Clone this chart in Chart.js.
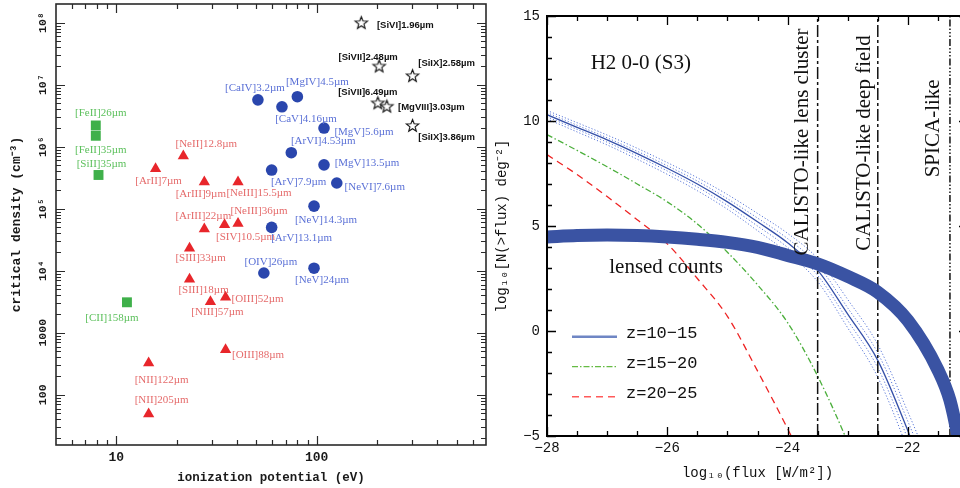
<!DOCTYPE html>
<html><head><meta charset="utf-8">
<script src="https://cdn.jsdelivr.net/npm/chart.js@4.4.1/dist/chart.umd.min.js"></script>
<style>
html,body{margin:0;padding:0;background:#fff;overflow:hidden;width:960px;height:488px;}
#wrap{position:relative;width:960px;height:488px;overflow:hidden;background:#fff;}
#c1{position:absolute;left:0;top:0;}
#c2{position:absolute;left:490px;top:0;}
</style></head><body>
<div id="wrap"><canvas id="c1" width="490" height="488"></canvas><canvas id="c2" width="490" height="488"></canvas></div>
<script>
// ===== Left panel: critical density vs ionization potential =====
const lowIonNames = ['[FeII]26µm','[FeII]35µm','[SiII]35µm','[CII]158µm'];
const lowIonPotential = [7.9, 7.9, 8.15, 11.3];
const lowIonDensity = [2.2e6, 1.5e6, 3.5e5, 3.1e3];

const midIonNames = ['[ArII]7µm','[NeII]12.8µm','[ArIII]9µm','[NeIII]15.5µm','[ArIII]22µm','[NeIII]36µm','[SIV]10.5µm','[SIII]33µm','[SIII]18µm','[NIII]57µm','[OIII]52µm','[OIII]88µm','[NII]122µm','[NII]205µm'];
const midIonPotential = [15.7, 21.6, 27.5, 40.5, 27.5, 40.5, 34.7, 23.2, 23.2, 29.5, 35.1, 35.1, 14.5, 14.5];
const midIonDensity = [4.4e5, 7.1e5, 2.7e5, 2.7e5, 4.7e4, 5.8e4, 5.5e4, 2.3e4, 7.3e3, 3.15e3, 3.75e3, 530, 325, 49];

const highIonNames = ['[CaIV]3.2µm','[CaV]4.16µm','[MgIV]4.5µm','[MgV]5.6µm','[ArVI]4.53µm','[MgV]13.5µm','[ArV]7.9µm','[NeVI]7.6µm','[NeV]14.3µm','[ArV]13.1µm','[OIV]26µm','[NeV]24µm'];
const highIonPotential = [50.9, 67.1, 80.1, 108.8, 74.7, 108.8, 59.6, 126, 97, 59.6, 54.5, 97];
const highIonDensity = [5.7e6, 4.4e6, 6.4e6, 2.0e6, 8.0e5, 5.1e5, 4.2e5, 2.6e5, 1.1e5, 5.0e4, 9.2e3, 1.1e4];

const coronalNames = ['[SiVI]1.96µm','[SiVII]2.48µm','[SiIX]2.58µm','[SiVII]6.49µm','[MgVIII]3.03µm','[SiIX]3.86µm'];
const coronalPotential = [167, 205, 301, 202, 224, 301];
const coronalDensity = [1.0e8, 2.0e7, 1.4e7, 5.1e6, 4.5e6, 2.2e6];

const densityTicks = [100, 1000, 1e4, 1e5, 1e6, 1e7, 1e8];
const densityTickLabels = ['100','1000','10⁴','10⁵','10⁶','10⁷','10⁸'];
const potentialTicks = [10, 100];
const potentialTickLabels = ['10','100'];

// ===== Right panel: cumulative counts =====
const fluxGridBlue = [-28,-27.5,-27,-26.5,-26,-25.5,-25,-24.5,-24,-23.5,-23,-22.5,-22,-21.5];
const countsZ10to15 =        [10.3, 9.7, 9.1, 8.45, 7.75, 7.0, 6.15, 5.2, 4.2, 2.9, 0.8, -1.4, -4.75, -8.5];
const countsZ10to15UpperA =  [10.5, 9.92, 9.33, 8.7, 8.02, 7.3, 6.5, 5.6, 4.65, 3.45, 1.5, -0.65, -3.85, -7.3];
const countsZ10to15UpperB =  [10.4, 9.8, 9.2, 8.56, 7.87, 7.14, 6.3, 5.38, 4.4, 3.15, 1.1, -1.05, -4.3, -7.9];
const countsZ10to15LowerA =  [10.2, 9.6, 8.99, 8.33, 7.62, 6.86, 5.98, 5.0, 3.98, 2.65, 0.5, -1.75, -5.15, -9.0];
const countsZ10to15LowerB =  [10.1, 9.48, 8.86, 8.18, 7.46, 6.68, 5.8, 4.78, 3.72, 2.35, 0.15, -2.2, -5.65, -9.6];

const fluxGridGreen = [-28,-27.5,-27,-26.5,-26,-25.5,-25,-24.5,-24,-23.5,-23,-22.5];
const countsZ15to20 = [9.35, 8.6, 7.82, 7.0, 6.15, 5.1, 3.75, 2.2, 0.4, -2.15, -5.3, -9.0];

const fluxGridRed = [-28,-27.5,-27,-26.5,-26,-25.5,-25,-24.5,-24,-23.5];
const countsZ20to25 = [8.4, 7.45, 6.4, 5.3, 4.15, 2.5, 0.7, -1.9, -4.65, -7.6];

const fluxGridLensed = [-28,-27.5,-27,-26.5,-26,-25.5,-25,-24.5,-24,-23.5,-23,-22.5,-22,-21.5,-21.3,-21.17,-21.05];
const countsLensed = [4.48, 4.55, 4.57, 4.55, 4.48, 4.37, 4.22, 3.98, 3.6, 3.2, 2.6, 1.85, 0.5, -1.85, -3.3, -5, -7];

const instrumentNames = ['CALISTO-like lens cluster','CALISTO-like deep field','SPICA-like'];
const instrumentLimits = [-23.5, -22.5, -21.3];
const legendLabels = ['z=10−15','z=15−20','z=20−25'];
const countTicks = [-5, 0, 5, 10, 15];
const fluxTicks = [-28, -26, -24, -22];

// ===== layout helpers (positions / styles, not data) =====
const lowIonLabelOffsets = [[5,-12],[5,14],[3,-11],[-15,16]];
const midIonLabelOffsets = [[3,12.4],[23,-11.7],[-3.5,12.3],[21,11],[-1,-13.3],[21,-12],[21,12.3],[11,10],[14,10.7],[7,10],[32,1.7],[32.5,5],[13,16.7],[13,-14]];
const highIonLabelOffsets = [[-3,-12],[24,12.3],[20,-14.7],[40,3.7],[32,-11.4],[43,-1.4],[27,12],[38,4.4],[12,14],[30,10.7],[7,-10.6],[8,12.4]];
const coronalLabelOffsets = [[44,2.3],[-11,-8.7],[34,-12],[-10,-10],[44.5,1.3],[34,12]];

function pts(xs, ys){ return xs.map((x,i)=>({x:x, y:ys[i]})); }

function logTickList(min, max){
  const out = [];
  for (let e = Math.floor(Math.log10(min)); e <= Math.ceil(Math.log10(max)); e++) {
    for (let m = 1; m < 10; m++) {
      const v = m * Math.pow(10, e);
      if (v > min && v < max) out.push({v:v, major: m === 1});
    }
  }
  return out;
}
function linTickList(min, max, step, majorEvery){
  const out = [];
  for (let v = min; v <= max + 1e-9; v += step) {
    const r = Math.round(v*1000)/1000;
    out.push({v:r, major: Math.abs(r/majorEvery - Math.round(r/majorEvery)) < 1e-6});
  }
  return out;
}
function frameTicksPlugin(cfg){
  return {
    id: 'frameTicks' + cfg.name,
    afterDatasetsDraw(chart){
      const ctx = chart.ctx, a = chart.chartArea;
      const sx = chart.scales.x, sy = chart.scales.y;
      ctx.save();
      ctx.strokeStyle = cfg.color;
      ctx.lineWidth = cfg.tickWidth;
      ctx.beginPath();
      cfg.xTicks.forEach(t => {
        const px = Math.round(sx.getPixelForValue(t.v)) + 0.5;
        const L = t.major ? cfg.major : cfg.minor;
        ctx.moveTo(px, a.bottom); ctx.lineTo(px, a.bottom - L);
        ctx.moveTo(px, a.top); ctx.lineTo(px, a.top + L);
      });
      cfg.yTicks.forEach(t => {
        const py = Math.round(sy.getPixelForValue(t.v)) + 0.5;
        const L = t.major ? cfg.major : cfg.minor;
        ctx.moveTo(a.left, py); ctx.lineTo(a.left + L, py);
        ctx.moveTo(a.right, py); ctx.lineTo(a.right - L, py);
      });
      ctx.stroke();
      ctx.lineWidth = cfg.frameWidth;
      ctx.strokeRect(a.left, a.top, a.right - a.left, a.bottom - a.top);
      ctx.restore();
    }
  };
}
function zeroPad(s){ s.paddingTop = 0; s.paddingBottom = 0; s.paddingLeft = 0; s.paddingRight = 0; }

function makeStar(r){
  const s = Math.ceil(r*2 + 4);
  const c = document.createElement('canvas'); c.width = s; c.height = s;
  const g = c.getContext('2d'); g.translate(s/2, s/2 + 0.5);
  g.beginPath();
  for (let i = 0; i < 10; i++) {
    const rr = i % 2 === 0 ? r : r*0.42;
    const ang = -Math.PI/2 + i*Math.PI/5;
    g.lineTo(rr*Math.cos(ang), rr*Math.sin(ang));
  }
  g.closePath(); g.fillStyle = '#fff'; g.fill();
  g.strokeStyle = '#111'; g.lineWidth = 1.1; g.stroke();
  return c;
}

// ===== Left chart =====
const labelGroups = [
  {names: lowIonNames, offsets: lowIonLabelOffsets, color: '#5cc05c', font: '11px "Liberation Serif"'},
  {names: midIonNames, offsets: midIonLabelOffsets, color: '#e56a6a', font: '11px "Liberation Serif"'},
  {names: highIonNames, offsets: highIonLabelOffsets, color: '#5a70d6', font: '11px "Liberation Serif"'},
  {names: coronalNames, offsets: coronalLabelOffsets, color: '#111111', font: 'bold 9.5px "Liberation Sans"'}
];
const pointLabelPlugin = {
  id: 'pointLabels',
  afterDatasetsDraw(chart){
    const ctx = chart.ctx;
    ctx.save();
    ctx.textAlign = 'center'; ctx.textBaseline = 'middle';
    labelGroups.forEach((g, di) => {
      const meta = chart.getDatasetMeta(di);
      ctx.fillStyle = g.color; ctx.font = g.font;
      meta.data.forEach((el, i) => {
        ctx.fillText(g.names[i], el.x + g.offsets[i][0], el.y + g.offsets[i][1]);
      });
    });
    ctx.restore();
  }
};

new Chart(document.getElementById('c1'), {
  type: 'scatter',
  data: { datasets: [
    {data: pts(lowIonPotential, lowIonDensity), pointStyle: 'rect', pointRadius: 7, backgroundColor: '#3fb04a', borderColor: '#3fb04a', borderWidth: 0},
    {data: pts(midIonPotential, midIonDensity), pointStyle: 'triangle', pointRadius: 6.5, backgroundColor: '#e8262b', borderColor: '#e8262b', borderWidth: 0},
    {data: pts(highIonPotential, highIonDensity), pointStyle: 'circle', pointRadius: 5.8, backgroundColor: '#2a46ad', borderColor: '#2a46ad', borderWidth: 0},
    {data: pts(coronalPotential, coronalDensity), pointStyle: makeStar(6.5), pointRadius: 7}
  ]},
  options: {
    responsive: false, animation: false, events: [],
    layout: {autoPadding: false, padding: {left: 0, top: 4, right: 4, bottom: 3}},
    plugins: {legend: {display: false}, tooltip: {enabled: false}},
    scales: {
      x: {
        type: 'logarithmic', min: 5, max: 700,
        grid: {display: false, drawTicks: false}, border: {display: false},
        afterBuildTicks: s => { s.ticks = potentialTicks.map(v => ({value: v})); },
        afterFit: s => { s.height = 40; zeroPad(s); },
        ticks: {
          autoSkip: false, maxRotation: 0, padding: 5, color: '#1a1a1a',
          font: {family: 'Liberation Mono', size: 13, weight: 'bold'},
          callback: v => { const i = potentialTicks.indexOf(v); return i >= 0 ? potentialTickLabels[i] : ''; }
        },
        title: {display: true, text: 'ionization potential (eV)', color: '#1a1a1a', padding: {top: 0, bottom: 0},
          font: {family: 'Liberation Mono', size: 12.5, weight: 'bold'}}
      },
      y: {
        type: 'logarithmic', min: 15.5, max: 2e8,
        grid: {display: false, drawTicks: false}, border: {display: false},
        afterBuildTicks: s => { s.ticks = densityTicks.map(v => ({value: v})); },
        afterFit: s => { s.width = 56; zeroPad(s); },
        ticks: {
          autoSkip: false, minRotation: 90, maxRotation: 90, crossAlign: 'center', padding: -1, color: '#1a1a1a',
          font: {family: 'Liberation Mono', size: 11.5, weight: 'bold'},
          callback: v => { const i = densityTicks.indexOf(v); return i >= 0 ? densityTickLabels[i] : ''; }
        },
        title: {display: true, text: 'critical density (cm⁻³)', color: '#1a1a1a', padding: {top: 9, bottom: 0},
          font: {family: 'Liberation Mono', size: 13, weight: 'bold'}}
      }
    }
  },
  plugins: [pointLabelPlugin, frameTicksPlugin({name: 'L', color: '#2a2a2a', tickWidth: 1.2, frameWidth: 1.6, major: 9, minor: 5,
    xTicks: logTickList(5, 700), yTicks: logTickList(15.5, 2e8)})]
});

// ===== Right chart =====
const panelTexts = [
  {text: 'H2 0-0 (S3)', x: -26.44, y: 12.73, rot: 0},
  {text: 'lensed counts', x: -26.02, y: 3.02, rot: 0},
  {text: instrumentNames[0], x: -23.75, y: 9.0, rot: -Math.PI/2},
  {text: instrumentNames[1], x: -22.72, y: 8.95, rot: -Math.PI/2},
  {text: instrumentNames[2], x: -21.58, y: 9.65, rot: -Math.PI/2}
];
const legendStyles = [
  {color: '#6f86c4', width: 2.5, dash: []},
  {color: '#66bb44', width: 1.3, dash: [6,2,1.5,2]},
  {color: '#ff5a5a', width: 1.5, dash: [7,5]}
];
const panelTextPlugin = {
  id: 'panelText',
  afterDraw(chart){
    const ctx = chart.ctx, sx = chart.scales.x, sy = chart.scales.y, a = chart.chartArea;
    ctx.save();
    ctx.fillStyle = '#111';
    ctx.font = '21px "Liberation Serif"';
    ctx.textAlign = 'center'; ctx.textBaseline = 'middle';
    panelTexts.forEach(t => {
      ctx.save();
      ctx.translate(sx.getPixelForValue(t.x), sy.getPixelForValue(t.y));
      ctx.rotate(t.rot);
      ctx.fillText(t.text, 0, 0);
      ctx.restore();
    });
    // legend
    legendLabels.forEach((lab, i) => {
      const y = a.top + 320.7 + i*30;
      const st = legendStyles[i];
      ctx.save();
      ctx.strokeStyle = st.color; ctx.lineWidth = st.width; ctx.setLineDash(st.dash);
      ctx.beginPath(); ctx.moveTo(a.left + 25, y); ctx.lineTo(a.left + 70, y); ctx.stroke();
      ctx.restore();
      ctx.fillStyle = '#111';
      ctx.font = '17px "Liberation Mono"';
      ctx.textAlign = 'left'; ctx.textBaseline = 'middle';
      ctx.fillText(lab, a.left + 79, y - 3);
    });
    ctx.restore();
  }
};
function vline(v, dash, order){
  return {data: [{x: v, y: -5}, {x: v, y: 15}], showLine: true, pointRadius: 0, borderColor: '#111', borderWidth: 1.5, borderDash: dash, clip: 0, order: order};
}
function curve(xs, ys, color, width, dash, order){
  return {data: pts(xs, ys), showLine: true, pointRadius: 0, borderColor: color, borderWidth: width, borderDash: dash,
    cubicInterpolationMode: 'monotone', clip: 0, order: order};
}
new Chart(document.getElementById('c2'), {
  type: 'scatter',
  data: { datasets: [
    curve(fluxGridLensed, countsLensed, '#3a53a3', 13, [], 1),
    curve(fluxGridBlue, countsZ10to15, '#3550a8', 1.3, [], 3),
    curve(fluxGridBlue, countsZ10to15UpperA, '#5a78d8', 1, [1.2,2], 4),
    curve(fluxGridBlue, countsZ10to15UpperB, '#5a78d8', 1, [1.2,2], 4),
    curve(fluxGridBlue, countsZ10to15LowerA, '#5a78d8', 1, [1.2,2], 4),
    curve(fluxGridBlue, countsZ10to15LowerB, '#5a78d8', 1, [1.2,2], 4),
    curve(fluxGridGreen, countsZ15to20, '#4caf3c', 1.3, [6,2.5,1.5,2.5], 3),
    curve(fluxGridRed, countsZ20to25, '#ee2222', 1.3, [7,5], 3),
    vline(instrumentLimits[0], [12,3,3,3], 2),
    vline(instrumentLimits[1], [12,3,3,3], 2),
    vline(instrumentLimits[2], [7,2,1.5,2,1.5,2,1.5,2], 2)
  ]},
  options: {
    responsive: false, animation: false, events: [],
    layout: {autoPadding: false, padding: {left: 0, top: 16, right: 12, bottom: 6}},
    plugins: {legend: {display: false}, tooltip: {enabled: false}},
    scales: {
      x: {
        type: 'linear', min: -28, max: -21,
        grid: {display: false, drawTicks: false}, border: {display: false},
        afterBuildTicks: s => { s.ticks = fluxTicks.map(v => ({value: v})); },
        afterFit: s => { s.height = 46; zeroPad(s); },
        ticks: {autoSkip: false, maxRotation: 0, padding: 4, color: '#111',
          font: {family: 'Liberation Mono', size: 14}, callback: v => String(v).replace('-', '−')},
        title: {display: true, text: 'log₁₀(flux [W/m²])', color: '#111', padding: {top: 0, bottom: 0},
          font: {family: 'Liberation Mono', size: 14}}
      },
      y: {
        type: 'linear', min: -5, max: 15,
        grid: {display: false, drawTicks: false}, border: {display: false},
        afterBuildTicks: s => { s.ticks = countTicks.map(v => ({value: v})); },
        afterFit: s => { s.width = 57; zeroPad(s); },
        ticks: {autoSkip: false, padding: 7, color: '#111',
          font: {family: 'Liberation Mono', size: 14}, callback: v => String(v).replace('-', '−')},
        title: {display: true, text: 'log₁₀[N(>flux) deg⁻²]', color: '#111', padding: {top: 4, bottom: 0},
          font: {family: 'Liberation Mono', size: 14}}
      }
    }
  },
  plugins: [frameTicksPlugin({name: 'R', color: '#000', tickWidth: 1.3, frameWidth: 2, major: 9, minor: 5,
    xTicks: linTickList(-28, -21, 0.5, 2), yTicks: linTickList(-5, 15, 1, 5)}), panelTextPlugin]
});
</script>
</body></html>
